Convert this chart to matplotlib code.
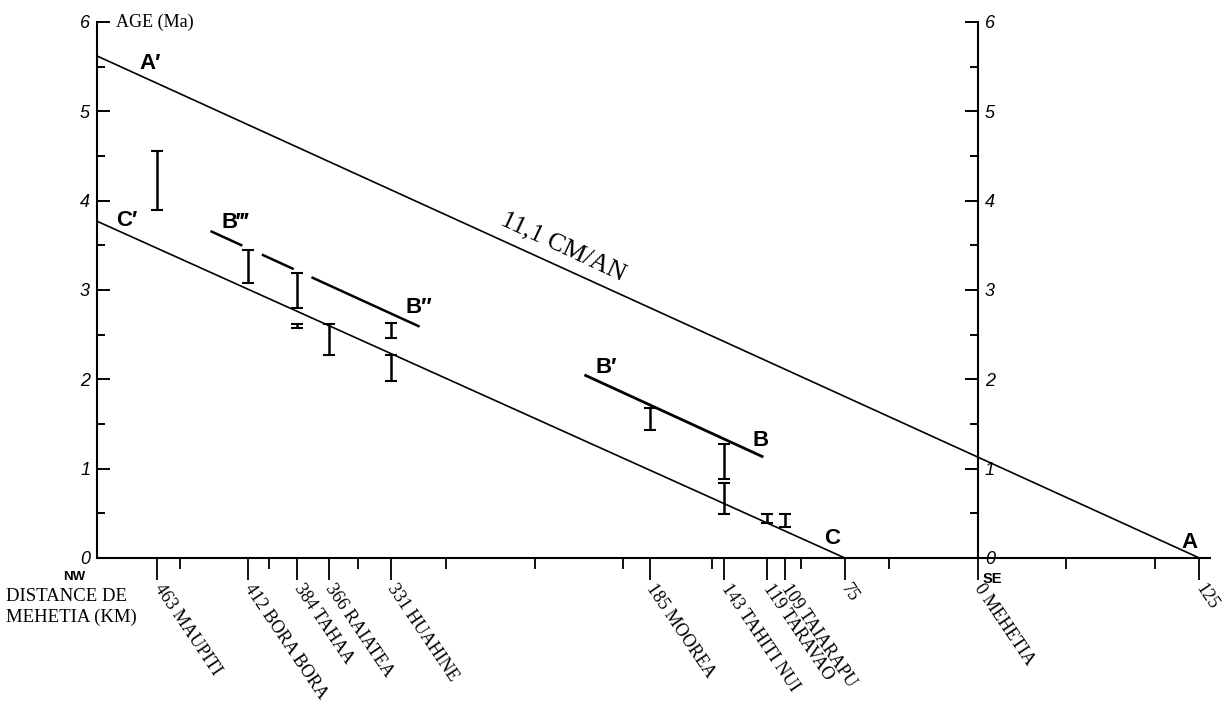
#!/usr/bin/env python3
# -*- coding: utf-8 -*-

import numpy as np
import matplotlib
matplotlib.use("Agg")
import matplotlib.pyplot as plt
from matplotlib.ticker import FixedLocator, MultipleLocator

# ----------------------------
# Datos: edades vs distancia a Mehetia
# ----------------------------

# eje x (km al NW de Mehetia; negativos hacia el SE)
X_LEFT, X_RIGHT = 497, -131

tick_km = [463, 412, 384, 366, 331, 185, 143, 119, 109, 75, 0, -125]
tick_labels = ["463 MAUPITI", "412 BORA BORA", "384 TAHAA", "366 RAIATEA",
               "331 HUAHINE", "185 MOOREA", "143 TAHITI NUI", "119 TARAVAO",
               "109 TAIARAPU", "75", "0 MEHETIA", "125"]
minor_km = [450, 400, 350, 300, 250, 200, 150, 100, 50, -50, -100]

# rectas de edad
line_a_km = [-125, 497]
line_a_age = [0.0, 5.62]
line_c_km = [75, 497]
line_c_age = [0.0, 3.77]
line_b3_km = [433, 315]
line_b3_age = [3.66, 2.59]
line_b3_pieces = [(433, 415), (404, 386), (376, 315)]
line_b1_km = [222, 121]
line_b1_age = [2.05, 1.13]

# dataciones (intervalos de edad por isla)
dating_km = [463, 412, 384, 384, 366, 331, 331, 185, 143, 143, 119, 109]
dating_hi = [4.56, 3.45, 3.19, 2.62, 2.62, 2.63, 2.27, 1.68, 1.28, 0.84, 0.49, 0.49]
dating_lo = [3.90, 3.08, 2.80, 2.57, 2.27, 2.46, 1.98, 1.43, 0.88, 0.49, 0.39, 0.35]

# etiquetas de las rectas: (texto, km, edad)
line_names = [("A\u2032", 473, 5.54), ("C\u2032", 486, 3.78),
              ("B\u2034", 427, 3.75), ("B\u2033", 323, 2.80),
              ("B\u2032", 216, 2.13), ("B", 127, 1.32),
              ("C", 87, 0.22), ("A", -115, 0.17)]

rate_text = "11,1 CM/AN"

SERIF = ["Liberation Serif", "DejaVu Serif"]
SANS = ["Liberation Sans", "DejaVu Sans"]

# ----------------------------
# Figura
# ----------------------------

fig = plt.figure(figsize=(12.22, 7.07), dpi=100)
ax = fig.add_axes([97 / 1222, 1 - 558 / 707, 1113 / 1222, 536 / 707])

ax.set_xlim(X_LEFT, X_RIGHT)
ax.set_ylim(0, 6)

for s in ["left", "bottom", "right"]:
    ax.spines[s].set_linewidth(1.5)
ax.spines["top"].set_visible(False)
ax.spines["right"].set_position(("data", 0))

# ticks eje y (ambos lados, hacia dentro)
ax.yaxis.set_major_locator(MultipleLocator(1))
ax.yaxis.set_minor_locator(MultipleLocator(0.5))
ax.tick_params(axis="y", which="both", direction="in", left=True, right=True,
               labelleft=True, labelright=True, width=1.4)
ax.tick_params(axis="y", which="major", length=9.5, pad=5, labelsize=13)
ax.tick_params(axis="y", which="minor", length=6)
for lab in ax.get_yticklabels():
    lab.set_fontfamily(SANS)
    lab.set_fontstyle("italic")

# ticks eje x
ax.xaxis.set_major_locator(FixedLocator(tick_km))
ax.xaxis.set_minor_locator(FixedLocator(minor_km))
ax.set_xticklabels(tick_labels)
ax.tick_params(axis="x", which="major", direction="out", length=16, width=1.3,
               pad=4, labelsize=13)
ax.tick_params(axis="x", which="minor", direction="out", length=8, width=1.3)
plt.setp(ax.get_xticklabels(), rotation=-56, ha="left", va="center",
         rotation_mode="anchor", fontfamily=SERIF)

# rectas
ax.plot(line_a_km, line_a_age, color="black", lw=1.2, solid_capstyle="butt")
ax.plot(line_c_km, line_c_age, color="black", lw=1.2, solid_capstyle="butt")
ax.plot(line_b1_km, line_b1_age, color="black", lw=2.0, solid_capstyle="butt")
for k0, k1 in line_b3_pieces:
    kk = np.array([k0, k1])
    aa = np.interp(kk, line_b3_km[::-1], line_b3_age[::-1])
    ax.plot(kk, aa, color="black", lw=1.8, solid_capstyle="butt")

# dataciones
hi = np.array(dating_hi)
lo = np.array(dating_lo)
ax.errorbar(dating_km, (hi + lo) / 2, yerr=(hi - lo) / 2, fmt="none",
            ecolor="black", elinewidth=1.8, capsize=4, capthick=1.5,
            clip_on=False)

# nombres de las rectas
for txt, km, age in line_names:
    ax.text(km, age, txt, ha="left", va="center", fontsize=16,
            fontweight="bold", family=SANS)

# velocidad escrita a lo largo de la recta A-A'
ax.text(234, 3.48, rate_text, rotation=-25, ha="center", va="center",
        fontsize=18.5, family=SERIF, rotation_mode="anchor")

# textos de ejes
ax.text(0.017, 6, "AGE (Ma)", transform=ax.get_yaxis_transform(),
        ha="left", va="center", fontsize=13, family=SERIF)
fig.text(63 / 1222, 1 - 577 / 707, "NW", ha="left", va="center",
         fontsize=9.5, fontweight="bold", family=SANS)
fig.text(983 / 1222, 1 - 579 / 707, "SE", ha="left", va="center",
         fontsize=10.5, fontweight="bold", family=SANS)
fig.text(6 / 1222, 1 - 607 / 707, "DISTANCE DE\nMEHETIA (KM)", ha="left",
         va="center", fontsize=13.5, family=SERIF, linespacing=1.3)

fig.savefig("out.png", dpi=100)
